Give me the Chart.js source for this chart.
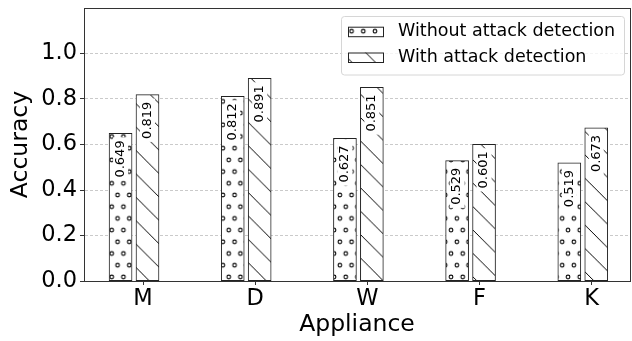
<!DOCTYPE html>
<html>
<head>
<meta charset="utf-8">
<script src="https://cdn.jsdelivr.net/npm/chart.js@4.4.1/dist/chart.umd.min.js"></script>
<style>
  html, body { margin: 0; padding: 0; background: #fff; }
  #chart { display: block; }
</style>
</head>
<body>
<canvas id="chart" width="632" height="341"></canvas>
<script>
const categories = ["M", "D", "W", "F", "K"];
const seriesLabels = ["Without attack detection", "With attack detection"];
const withoutDetection = [0.649, 0.812, 0.627, 0.529, 0.519];
const withDetection = [0.819, 0.891, 0.851, 0.601, 0.673];
const yTickValues = [0.0, 0.2, 0.4, 0.6, 0.8, 1.0];

const FONT = "'DejaVu Sans', sans-serif";
const canvas = document.getElementById("chart");
const ctx = canvas.getContext("2d");

// hatch fills, anchored to the canvas like matplotlib anchors them to the figure
function makePattern(kind) {
  const tile = document.createElement("canvas");
  const g = tile.getContext("2d");
  let tx, ty;
  if (kind === "circles") {
    tile.width = 12; tile.height = 24;
    g.fillStyle = "#fff"; g.fillRect(0, 0, 12, 24);
    g.strokeStyle = "#000"; g.lineWidth = 1.1;
    [[0, 0], [12, 0], [0, 24], [12, 24], [6, 12]].forEach(([x, y]) => {
      g.beginPath(); g.arc(x, y, 1.9, 0, Math.PI * 2); g.stroke();
    });
    tx = 6.4; ty = 19.5;
  } else {
    tile.width = 24; tile.height = 24;
    g.fillStyle = "#fff"; g.fillRect(0, 0, 24, 24);
    g.strokeStyle = "#000"; g.lineWidth = 1;
    g.beginPath(); g.moveTo(-2, -2); g.lineTo(26, 26); g.stroke();
    tx = 8.9; ty = 0;
  }
  const p = ctx.createPattern(tile, "repeat");
  const s = 11.7 / 12;
  p.setTransform(new DOMMatrix([s, 0, 0, s, tx, ty]));
  return p;
}

const dotsFill = makePattern("circles");
const linesFill = makePattern("lines");

// draws the rotated value on a white box inside each bar
const valueLabels = {
  id: "valueLabels",
  afterDatasetsDraw(chart) {
    const c = chart.ctx;
    c.save();
    c.font = "13px " + FONT;
    chart.data.datasets.forEach((ds, di) => {
      chart.getDatasetMeta(di).data.forEach((bar, i) => {
        const text = ds.data[i].y.toFixed(3);
        const w = c.measureText(text).width;
        const top = bar.y + 7;
        c.fillStyle = "#fff";
        c.fillRect(bar.x - 7.5, top - 3, 15, w + 6);
        c.save();
        c.translate(bar.x, top);
        c.rotate(-Math.PI / 2);
        c.fillStyle = "#000";
        c.textAlign = "right";
        c.textBaseline = "middle";
        c.fillText(text, 0, 0);
        c.restore();
      });
    });
    c.restore();
  }
};

// full box around the plot plus the framed legend in the top right
const frameAndLegend = {
  id: "frameAndLegend",
  afterDraw(chart) {
    const c = chart.ctx;
    const a = chart.chartArea;
    c.save();
    c.strokeStyle = "#333";
    c.lineWidth = 1;
    const l = Math.round(a.left), t = Math.round(a.top);
    const r = Math.round(a.right), b = Math.round(a.bottom);
    c.strokeRect(l + 0.5, t + 0.5, r - l, b - t);

    const bx = 341.5, by = 16.5, bw = 283, bh = 58.5;
    c.beginPath();
    c.roundRect(bx, by, bw, bh, 3);
    c.fillStyle = "rgba(255,255,255,0.8)";
    c.fill();
    c.strokeStyle = "#d6d6d6";
    c.stroke();

    c.font = "17.5px " + FONT;
    c.textBaseline = "middle";
    c.textAlign = "left";
    chart.data.datasets.forEach((ds, i) => {
      const cy = 31.7 + i * 25.8;
      c.fillStyle = ds.backgroundColor;
      c.fillRect(348, cy - 5, 35.5, 10);
      c.strokeStyle = "#222";
      c.strokeRect(348.5, cy - 4.5, 35, 9.5);
      c.fillStyle = "#000";
      c.fillText(ds.label, 398, cy);
    });
    c.restore();
  }
};

new Chart(ctx, {
  type: "bar",
  data: {
    datasets: [
      {
        label: seriesLabels[0],
        data: withoutDetection.map((v, i) => ({ x: i - 0.2, y: v })),
        backgroundColor: dotsFill,
        borderColor: "#222",
        borderWidth: 1,
        borderSkipped: false,
        barThickness: 23,
        grouped: false
      },
      {
        label: seriesLabels[1],
        data: withDetection.map((v, i) => ({ x: i + 0.04, y: v })),
        backgroundColor: linesFill,
        borderColor: "#222",
        borderWidth: 1,
        borderSkipped: false,
        barThickness: 23,
        grouped: false
      }
    ]
  },
  options: {
    responsive: false,
    animation: false,
    devicePixelRatio: 1,
    layout: { padding: { top: 8, right: 2, left: 0, bottom: 0 } },
    plugins: {
      legend: { display: false },
      tooltip: { enabled: false }
    },
    scales: {
      x: {
        type: "linear",
        offset: false,
        min: -0.526,
        max: 4.341,
        afterBuildTicks: (s) => { s.ticks = categories.map((_, i) => ({ value: i })); },
        afterFit: (s) => { s.height = 60; s.paddingLeft = 0; s.paddingRight = 0; },
        ticks: {
          callback: (v) => categories[v],
          font: { family: FONT, size: 22.5, lineHeight: 1 },
          color: "#000",
          padding: 2.5,
          maxRotation: 0,
          autoSkip: false
        },
        grid: {
          offset: false,
          drawOnChartArea: false,
          drawTicks: true,
          tickLength: 4,
          tickColor: "#333",
          tickWidth: 1
        },
        border: { display: true, color: "#333", width: 1 },
        title: {
          display: true,
          text: "Appliance",
          color: "#000",
          font: { family: FONT, size: 23.5, lineHeight: 1 },
          padding: { top: 0, bottom: 4.5 }
        }
      },
      y: {
        min: 0,
        max: 1.2,
        afterBuildTicks: (s) => { s.ticks = yTickValues.map((v) => ({ value: v })); },
        afterFit: (s) => { s.width = 84; s.paddingTop = 0; s.paddingBottom = 0; },
        ticks: {
          callback: (v) => v.toFixed(1),
          font: { family: FONT, size: 22.5, lineHeight: 1 },
          color: "#000",
          padding: 3
        },
        grid: {
          color: "#bdbdbd",
          lineWidth: 0.8,
          drawTicks: true,
          tickLength: 4,
          tickColor: "#333",
          tickWidth: 1,
          tickBorderDash: []
        },
        border: { display: true, color: "#333", width: 1, dash: [3, 2] },
        title: {
          display: true,
          text: "Accuracy",
          color: "#000",
          font: { family: FONT, size: 23.5, lineHeight: 1 },
          padding: { top: 9.5, bottom: 0 }
        }
      }
    }
  },
  plugins: [valueLabels, frameAndLegend]
});
</script>
</body>
</html>
